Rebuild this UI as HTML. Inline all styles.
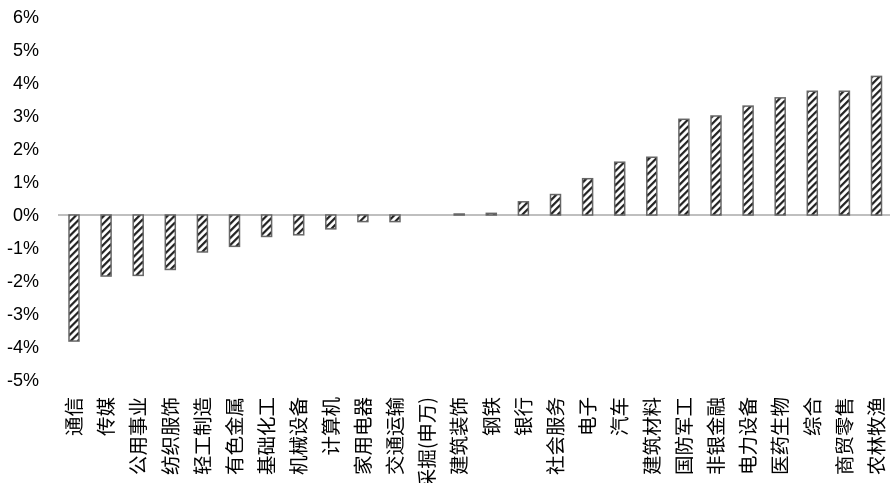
<!DOCTYPE html>
<html><head><meta charset="utf-8"><style>body{margin:0;background:#fff}</style></head><body>
<svg width="892" height="483" xmlns="http://www.w3.org/2000/svg" font-family="Liberation Sans, Noto Sans CJK SC, sans-serif">
<defs><pattern id="h" width="5" height="5" patternUnits="userSpaceOnUse" patternTransform="rotate(45)"><rect width="5" height="5" fill="#fff"/><rect width="2.2" height="5" fill="#222"/></pattern></defs>
<g font-size="18" fill="#000" text-anchor="end" id="yl"></g>
<line x1="58" y1="215" x2="890" y2="215" stroke="#bfbfbf" stroke-width="2"/>
<g id="bars"></g><g id="xl" font-size="19.5" font-family="Noto Sans CJK SC, sans-serif"></g>
<script>
var ns="http://www.w3.org/2000/svg";
var n=["通信","传媒","公用事业","纺织服饰","轻工制造","有色金属","基础化工","机械设备","计算机","家用电器","交通运输","采掘(申万)","建筑装饰","钢铁","银行","社会服务","电子","汽车","建筑材料","国防军工","非银金融","电力设备","医药生物","综合","商贸零售","农林牧渔"];
var v=[-3.82,-1.85,-1.83,-1.65,-1.12,-0.95,-0.65,-0.6,-0.42,-0.2,-0.2,0,0.03,0.05,0.4,0.62,1.1,1.6,1.75,2.9,3.0,3.3,3.55,3.75,3.75,4.2];
function Y(p){return 215-p*33}
var yl=document.getElementById("yl");
for(var p=-5;p<=6;p++){var t=document.createElementNS(ns,"text");t.setAttribute("x",39);t.setAttribute("y",Y(p)+6);t.textContent=p+"%";yl.appendChild(t);}
var b=document.getElementById("bars"),xl=document.getElementById("xl");
for(var i=0;i<26;i++){var cx=74+i*32.1;
if(Math.abs(v[i])>0.001){var r=document.createElementNS(ns,"rect");var y0=Math.min(Y(0),Y(v[i])),h=Math.abs(v[i])*33;
r.setAttribute("x",cx-5);r.setAttribute("y",y0);r.setAttribute("width",10);r.setAttribute("height",Math.max(h,1));r.setAttribute("fill","url(#h)");r.setAttribute("stroke","#666");r.setAttribute("stroke-width","1.5");b.appendChild(r);}
var t=document.createElementNS(ns,"text");t.setAttribute("transform","translate("+(cx+7)+",397) rotate(-90)");t.setAttribute("text-anchor","end");t.textContent=n[i];xl.appendChild(t);}
</script>
</svg>
</body></html>
